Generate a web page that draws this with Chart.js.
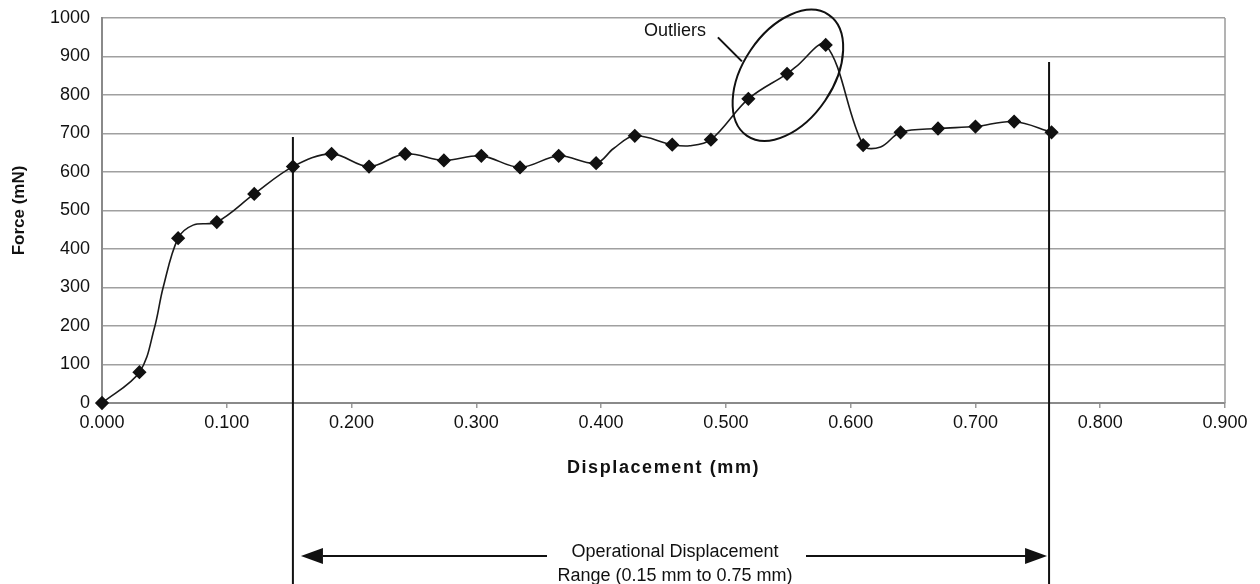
<!DOCTYPE html>
<html><head><meta charset="utf-8">
<script src="https://cdn.jsdelivr.net/npm/chart.js@4.4.1/dist/chart.umd.min.js"></script>
<style>html,body{margin:0;padding:0;background:#fff}#w{width:1260px;height:584px;position:relative}</style>
</head><body><div id="w"><canvas id="c"></canvas></div>
<script>
// Displacement (mm) and force (mN); marked = diamond shown
const displacement = [0.000,0.030,0.042,0.049,0.061,0.073,0.092,0.122,0.153,0.184,0.214,0.243,0.274,0.304,0.335,0.366,0.396,0.410,0.427,0.457,0.471,0.488,0.518,0.549,0.556,0.580,0.610,0.624,0.640,0.670,0.700,0.731,0.761];
const force        = [0,   80,  195, 300, 428, 462, 470, 543, 614, 647, 614, 647, 630, 642, 612, 642, 623, 661, 694, 671, 668, 684, 790, 855, 873, 930, 670, 665, 703, 713, 718, 731, 703];
const marked       = [1,   1,   0,   0,   1,   0,   1,   1,   1,   1,   1,   1,   1,   1,   1,   1,   1,   0,   1,   1,   0,   1,   1,   1,   0,   1,   1,   0,   1,   1,   1,   1,   1];
const xTicks = [0,0.1,0.2,0.3,0.4,0.5,0.6,0.7,0.8,0.9];
const yTicks = [0,100,200,300,400,500,600,700,800,900,1000];
const rangeStart = 0.153, rangeEnd = 0.759;        // operational range markers
const rangeStartTop = 691, rangeEndTop = 886;      // where the vertical markers begin (mN)
const outlierCenter = {x:0.5497, y:851};

const FONT = "'Liberation Sans', Arial, sans-serif";
const pts = displacement.map((d,i)=>({x:d,y:force[i]}));

const annot = {
  id:'annot',
  afterDraw(chart){
    const {ctx, chartArea:a, scales:{x,y}} = chart;
    ctx.save();
    ctx.strokeStyle='#9a9a9a'; ctx.lineWidth=1.5;
    ctx.beginPath(); ctx.moveTo(a.right,a.top); ctx.lineTo(a.right,a.bottom); ctx.stroke();
    // vertical range markers
    ctx.strokeStyle='#111'; ctx.lineWidth=2;
    const xs = x.getPixelForValue(rangeStart), xe = x.getPixelForValue(rangeEnd);
    ctx.beginPath(); ctx.moveTo(xs,y.getPixelForValue(rangeStartTop)); ctx.lineTo(xs,chart.height); ctx.stroke();
    ctx.beginPath(); ctx.moveTo(xe,y.getPixelForValue(rangeEndTop)); ctx.lineTo(xe,chart.height); ctx.stroke();
    // axis titles
    ctx.fillStyle='#111';
    ctx.textAlign='center'; ctx.textBaseline='middle';
    ctx.font = 'bold 18px '+FONT;
    ctx.letterSpacing = '1.6px';
    ctx.fillText('Displacement (mm)', (a.left+a.right)/2, 468);
    ctx.letterSpacing = '0px';
    ctx.font = 'bold 17px '+FONT;
    ctx.save(); ctx.translate(19,(a.top+a.bottom)/2); ctx.rotate(-Math.PI/2);
    ctx.fillText('Force (mN)',0,0); ctx.restore();
    // arrow
    const ay = chart.height-28;
    const cx = 675;
    ctx.beginPath(); ctx.moveTo(xs+30,ay); ctx.lineTo(547,ay); ctx.stroke();
    ctx.beginPath(); ctx.moveTo(806,ay); ctx.lineTo(xe-20,ay); ctx.stroke();
    ctx.beginPath(); ctx.moveTo(xs+8,ay); ctx.lineTo(xs+30,ay-8); ctx.lineTo(xs+30,ay+8); ctx.closePath(); ctx.fill();
    ctx.beginPath(); ctx.moveTo(xe-2,ay); ctx.lineTo(xe-24,ay-8); ctx.lineTo(xe-24,ay+8); ctx.closePath(); ctx.fill();
    ctx.font = '18px '+FONT;
    ctx.fillText('Operational Displacement', cx, ay-4);
    ctx.fillText('Range (0.15 mm to 0.75 mm)', cx, ay+20);
    // outliers ellipse
    const ex = x.getPixelForValue(outlierCenter.x), ey = y.getPixelForValue(outlierCenter.y);
    ctx.lineWidth=2;
    ctx.beginPath(); ctx.ellipse(ex,ey,73,45,-56*Math.PI/180,0,Math.PI*2); ctx.stroke();
    ctx.beginPath(); ctx.moveTo(ex-70,ey-38); ctx.lineTo(ex-46,ey-14); ctx.stroke();
    ctx.fillText('Outliers', ex-113, ey-44);
    ctx.restore();
  }
};

new Chart(document.getElementById('c'),{
  type:'line',
  data:{datasets:[{
    data:pts,
    borderColor:'#1a1a1a', borderWidth:1.6,
    pointStyle:'rectRot',
    pointRadius: marked.map(m=>m?6:0),
    pointBackgroundColor:'#111', pointBorderColor:'#111',
    tension:0.35, fill:false, clip:10
  }]},
  options:{
    responsive:true, maintainAspectRatio:false, animation:false,
    layout:{padding:{left:0,top:18,right:35,bottom:0}},
    plugins:{legend:{display:false},tooltip:{enabled:false}},
    scales:{
      x:{type:'linear',min:0,max:0.9,
        afterBuildTicks(s){s.ticks=xTicks.map(v=>({value:v}));},
        afterFit(s){s.height=181;},
        ticks:{callback:v=>v.toFixed(3),font:{family:FONT,size:18},color:'#111',padding:4,maxRotation:0},
        grid:{drawOnChartArea:false,drawTicks:true,tickLength:5,color:'#9a9a9a',lineWidth:1.5},
        border:{color:'#8a8a8a',width:2}
      },
      y:{min:0,max:1000,
        afterBuildTicks(s){s.ticks=yTicks.map(v=>({value:v}));},
        afterFit(s){s.width=102; s.paddingTop=0; s.paddingBottom=0;},
        ticks:{callback:v=>String(v),font:{family:FONT,size:18},color:'#111',padding:12},
        grid:{color:'#a0a0a0',lineWidth:1.5,drawTicks:false},
        border:{color:'#8a8a8a',width:2}
      }
    }
  },
  plugins:[annot]
});
</script></body></html>
